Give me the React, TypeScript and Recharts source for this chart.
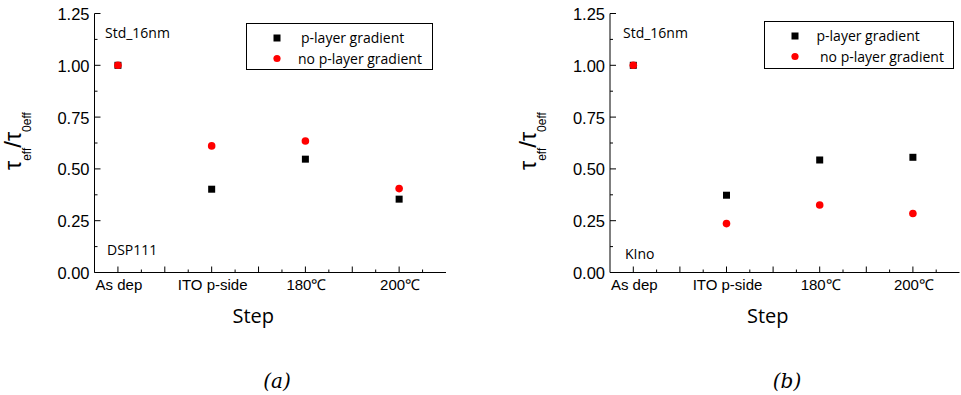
import React from 'react';
import { ScatterChart, Scatter, XAxis, YAxis, Legend } from 'recharts';

// process steps on the x axis
const steps = ['As dep', 'ITO p-side', '180℃', '200℃'];
const stepPos = [1, 2, 3, 4];
const seriesNames = ['p-layer gradient', 'no p-layer gradient'];

// (a) DSP111
const gradA = [1.0, 0.402, 0.547, 0.354];
const noGradA = [1.0, 0.611, 0.635, 0.405];
// (b) KIno
const gradB = [1.0, 0.373, 0.543, 0.556];
const noGradB = [1.0, 0.236, 0.326, 0.285];

const xTicks = [1, 1.25, 1.5, 1.75, 2, 2.25, 2.5, 2.75, 3, 3.25, 3.5, 3.75, 4, 4.25];
const yTicks = [0, 0.125, 0.25, 0.375, 0.5, 0.625, 0.75, 0.875, 1, 1.125, 1.25];
const yLabels = ['0.00', '0.25', '0.50', '0.75', '1.00', '1.25'];

const SANS = '"Open Sans", sans-serif';
const ARIAL = '"Liberation Sans", Arial, sans-serif';

const toPoints = (vals: number[]) => stepPos.map((x, i) => ({ x, y: vals[i] }));

const Square = (p: any) => <rect x={p.cx - 3.5} y={p.cy - 3.5} width={7} height={7} fill="#000" />;
const Dot = (p: any) => <circle cx={p.cx} cy={p.cy} r={3.8} fill="#ff0000" />;

const makeTick = (side: 'bottom' | 'top' | 'left' | 'right') => (props: any) => {
  const { x, y, payload } = props;
  const v = payload.value;
  if (side === 'bottom' || side === 'top') {
    const len = Number.isInteger(v * 2) ? 6 : 3;
    const dir = side === 'bottom' ? -1 : 1;
    const label = side === 'bottom' && Number.isInteger(v) ? steps[v - 1] : null;
    return (
      <g>
        <line x1={x} x2={x} y1={y} y2={y + dir * len} stroke="#000" />
        {label && (
          <text x={x + 1} y={y + 17.5} textAnchor="middle" fontFamily={ARIAL} fontSize={15} fill="#000">
            {label}
          </text>
        )}
      </g>
    );
  }
  const major = Number.isInteger(v * 4);
  const len = major ? 6 : 3;
  const dir = side === 'left' ? 1 : -1;
  const label = side === 'left' && major ? yLabels[Math.round(v * 4)] : null;
  return (
    <g>
      <line x1={x} x2={x + dir * len} y1={y} y2={y} stroke="#000" />
      {label && (
        <text x={x - 5} y={y + 6.5} textAnchor="end" fontFamily={ARIAL} fontSize={16.5} fill="#000">
          {label}
        </text>
      )}
    </g>
  );
};

const YTitle = (props: any) => {
  const vb = props.viewBox;
  const cx = vb.x + vb.width - 74;
  const cy = vb.y + vb.height / 2 - 2;
  return (
    <text x={cx} y={cy} transform={`rotate(-90, ${cx}, ${cy})`} textAnchor="middle" fontFamily={ARIAL} fill="#000">
      <tspan fontSize={23}>τ</tspan>
      <tspan fontSize={12} dy={10}>eff</tspan>
      <tspan fontSize={24} dy={-10}>/</tspan>
      <tspan fontSize={23}>τ</tspan>
      <tspan fontSize={12} dy={10}>0eff</tspan>
    </text>
  );
};

const XTitle = (props: any) => {
  const vb = props.viewBox;
  return (
    <text x={vb.x + vb.width / 2 - 17} y={vb.y + 50.5} textAnchor="middle" fontFamily={SANS} fontSize={20} fill="#000">
      Step
    </text>
  );
};

const LegendBox = ({ payload, w, h, textX }: any) => {
  const entries = [...(payload || [])].sort(
    (a: any, b: any) => seriesNames.indexOf(a.value) - seriesNames.indexOf(b.value)
  );
  return (
    <svg width={w} height={h} style={{ display: 'block' }}>
      <rect x={0.5} y={0.5} width={w - 1} height={h - 1} fill="#fff" stroke="#000" />
      {entries.map((e: any, i: number) => {
        const cy = 15 + i * 20.5;
        return (
          <g key={e.value}>
            {i === 0 ? (
              <rect x={27.5} y={cy - 3.5} width={7} height={7} fill="#000" />
            ) : (
              <circle cx={31} cy={cy} r={3.6} fill="#ff0000" />
            )}
            <text x={textX[i]} y={cy + 5} fontFamily={SANS} fontSize={14} fill="#000">
              {e.value}
            </text>
          </g>
        );
      })}
    </svg>
  );
};

type PanelProps = {
  left: number;
  width: number;
  axisW: number;
  marginRight: number;
  grad: number[];
  noGrad: number[];
  sample: string;
  sampleY: number;
  stdX: number;
  legend: { x: number; y: number; w: number; h: number; textX: number[] };
  caption: string;
  captionX: number;
};

const Panel = (p: PanelProps) => {
  const plotLeft = p.axisW;
  return (
    <div style={{ position: 'absolute', left: p.left, top: 0, width: p.width, height: 395 }}>
      <ScatterChart width={p.width} height={395} margin={{ top: 13.5, right: p.marginRight, bottom: 92.5, left: 0 }}>
        <XAxis
          xAxisId="b"
          type="number"
          dataKey="x"
          domain={[0.75, 4.5]}
          ticks={xTicks}
          interval={0}
          allowDataOverflow
          height={30}
          tickLine={false}
          tickSize={0}
          tickMargin={0}
          axisLine={{ stroke: '#000' }}
          tick={makeTick('bottom')}
          label={<XTitle />}
        />
        <XAxis
          xAxisId="t"
          orientation="top"
          type="number"
          domain={[0.75, 4.5]}
          ticks={xTicks}
          interval={0}
          allowDataOverflow
          height={0}
          tickLine={false}
          tickSize={0}
          tickMargin={0}
          axisLine={{ stroke: '#000' }}
          tick={makeTick('top')}
        />
        <YAxis
          yAxisId="l"
          type="number"
          dataKey="y"
          domain={[0, 1.25]}
          ticks={yTicks}
          interval={0}
          allowDataOverflow
          width={p.axisW}
          tickLine={false}
          tickSize={0}
          tickMargin={0}
          axisLine={{ stroke: '#000' }}
          tick={makeTick('left')}
          label={<YTitle />}
        />
        <YAxis
          yAxisId="r"
          orientation="right"
          type="number"
          domain={[0, 1.25]}
          ticks={yTicks}
          interval={0}
          allowDataOverflow
          width={0}
          tickLine={false}
          tickSize={0}
          tickMargin={0}
          axisLine={{ stroke: '#000' }}
          tick={makeTick('right')}
        />
        <Legend
          layout="vertical"
          align="center"
          verticalAlign="middle"
          wrapperStyle={{ position: 'absolute', left: p.legend.x, top: p.legend.y, width: p.legend.w, height: p.legend.h }}
          content={(lp: any) => <LegendBox payload={lp.payload} w={p.legend.w} h={p.legend.h} textX={p.legend.textX} />}
        />
        <Scatter
          name={seriesNames[0]}
          xAxisId="b"
          yAxisId="l"
          data={toPoints(p.grad)}
          fill="#000"
          shape={Square}
          isAnimationActive={false}
        />
        <Scatter
          name={seriesNames[1]}
          xAxisId="b"
          yAxisId="l"
          data={toPoints(p.noGrad)}
          fill="#ff0000"
          shape={Dot}
          isAnimationActive={false}
        />
      </ScatterChart>
      <svg
        width={p.width}
        height={395}
        style={{ position: 'absolute', left: 0, top: 0, pointerEvents: 'none' }}
      >
        <text x={plotLeft + p.stdX} y={37.5} fontFamily={SANS} fontSize={14} fill="#000">
          Std_16nm
        </text>
        <text x={plotLeft + p.stdX + 2} y={p.sampleY} fontFamily={SANS} fontSize={14} fill="#000">
          {p.sample}
        </text>
        <text
          x={p.captionX}
          y={388}
          textAnchor="middle"
          fontFamily='"DejaVu Serif", serif'
          fontStyle="italic"
          fontSize={20}
          fill="#000"
        >
          {p.caption}
        </text>
      </svg>
    </div>
  );
};

export default function App() {
  return (
    <div style={{ position: 'absolute', left: 0, top: 0, width: 961, height: 395, background: '#fff' }}>
      <Panel
        left={0}
        width={480}
        axisW={94.5}
        marginRight={34}
        grad={gradA}
        noGrad={noGradA}
        sample="DSP111"
        sampleY={254.5}
        stdX={10.5}
        legend={{ x: 245.5, y: 22.5, w: 187, h: 47, textX: [55, 52] }}
        caption="(a)"
        captionX={277}
      />
      <Panel
        left={480}
        width={481}
        axisW={130}
        marginRight={1.5}
        grad={gradB}
        noGrad={noGradB}
        sample="KIno"
        sampleY={258.5}
        stdX={13}
        legend={{ x: 284, y: 20.5, w: 190, h: 48, textX: [52.5, 56] }}
        caption="(b)"
        captionX={307}
      />
    </div>
  );
}
